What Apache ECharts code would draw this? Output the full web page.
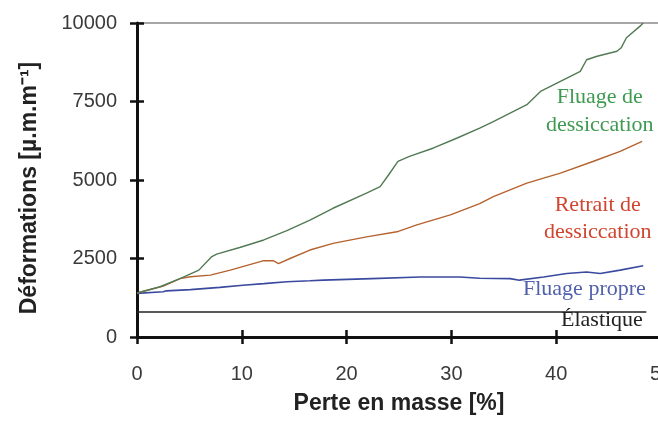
<!DOCTYPE html>
<html>
<head>
<meta charset="utf-8">
<script src="https://cdn.jsdelivr.net/npm/echarts@6/dist/echarts.min.js"></script>
<style>
  html, body { margin: 0; padding: 0; background: #fff; }
  #chart { width: 658px; height: 422px; }
</style>
</head>
<body>
<div id="chart"></div>
<script>
// Déformations vs perte en masse — [perte %, µm/m] pairs per curve
const fluageDessiccation = [
  [0, 1400], [2.2, 1600], [4.1, 1860], [5.9, 2130], [7.1, 2550], [7.6, 2640],
  [9.8, 2850], [12.1, 3090], [14.3, 3390], [16.5, 3720], [18.7, 4100],
  [21.9, 4580], [23.2, 4790], [24.0, 5160], [24.9, 5590], [26.0, 5750],
  [28.3, 6020], [30.5, 6330], [32.7, 6650], [34.0, 6860], [37.2, 7400],
  [38.5, 7820], [40.4, 8140], [42.3, 8460], [42.9, 8830], [43.9, 8940],
  [45.8, 9100], [46.2, 9210], [46.7, 9530], [48.0, 9900], [48.3, 10000]
];
const retraitDessiccation = [
  [0, 1400], [2.5, 1620], [4.1, 1860], [5.1, 1920], [7.0, 1970], [8.9, 2130],
  [12.1, 2430], [13.0, 2430], [13.5, 2340], [14.6, 2500], [16.5, 2770],
  [18.7, 2980], [21.9, 3190], [24.8, 3350], [26.7, 3570], [29.9, 3890],
  [32.7, 4250], [34.0, 4470], [37.2, 4900], [40.4, 5220], [43.5, 5590],
  [46.1, 5910], [48.2, 6230]
];
const fluagePropre = [
  [0, 1390], [2.5, 1440], [2.8, 1470], [5.1, 1510], [7.9, 1580], [10.1, 1650],
  [12.1, 1700], [14.3, 1760], [16.5, 1790], [17.8, 1810], [22.4, 1860],
  [27.0, 1910], [30.8, 1910], [32.7, 1870], [35.6, 1860], [36.5, 1810],
  [38.8, 1910], [41.0, 2020], [42.9, 2070], [44.2, 2020], [46.1, 2130],
  [48.3, 2270]
];
const elastique = [[0, 800], [48.6, 800]];

const xTicks = [0, 10, 20, 30, 40, 50];
const yTicks = [0, 2500, 5000, 7500, 10000];

const xTitle = 'Perte en masse [%]';
const yTitle = 'Déformations [µ.m.m⁻¹]';
const curveNames = ['Fluage de\ndessiccation', 'Retrait de\ndessiccation', 'Fluage propre', 'Élastique'];

const chart = echarts.init(document.getElementById('chart'), null, { renderer: 'canvas' });

const sans = 'Liberation Sans, Arial, sans-serif';
const serif = 'Liberation Serif, Times New Roman, serif';
const tickFont = { fontFamily: sans, fontSize: 20, color: '#3a3a3a' };
const titleFont = { fontFamily: sans, fontWeight: 'bold', fontSize: 23, color: '#222' };

// plot area in pixels
const gridLeft = 137, gridTop = 23, gridWidth = 524, gridHeight = 314;

const tickStyle = { color: '#111', width: 2.5 };
const hiddenLine = { show: true, onZero: false, lineStyle: { color: 'rgba(0,0,0,0)', width: 1 } };

const xBase = {
  type: 'value', min: xTicks[0], max: xTicks[xTicks.length - 1],
  interval: xTicks[1] - xTicks[0], splitLine: { show: false }
};
const yBase = {
  type: 'value', min: yTicks[0], max: yTicks[yTicks.length - 1],
  interval: yTicks[1] - yTicks[0]
};

const option = {
  backgroundColor: '#fff',
  animation: false,
  grid: {
    left: gridLeft, top: gridTop, width: gridWidth, height: gridHeight,
    containLabel: false, outerBoundsMode: 'none'
  },
  xAxis: [
    Object.assign({}, xBase, {
      position: 'bottom',
      name: xTitle, nameLocation: 'middle', nameGap: 55,
      nameTextStyle: titleFont,
      axisLine: { show: true, onZero: false, lineStyle: { color: '#111', width: 3 } },
      axisTick: { show: true, inside: false, length: 7, lineStyle: tickStyle },
      axisLabel: Object.assign({ margin: 27, formatter: v => String(v) }, tickFont)
    }),
    // upper half of the crossing ticks, laid on the bottom edge
    Object.assign({}, xBase, {
      position: 'top', offset: -gridHeight,
      axisLine: hiddenLine,
      axisTick: { show: true, inside: false, length: 7, lineStyle: tickStyle },
      axisLabel: { show: false }
    })
  ],
  yAxis: [
    Object.assign({}, yBase, {
      position: 'left',
      name: yTitle, nameLocation: 'middle', nameGap: 96, nameRotate: 90,
      nameTextStyle: Object.assign({ padding: [0, 16, 0, 0] }, titleFont),
      axisLine: { show: true, onZero: false, lineStyle: { color: '#111', width: 3 } },
      axisTick: { show: true, inside: false, length: 7, lineStyle: tickStyle },
      axisLabel: Object.assign({ margin: 20, formatter: v => String(v) }, tickFont),
      splitLine: { show: true, lineStyle: { color: ['rgba(0,0,0,0)', 'rgba(0,0,0,0)', 'rgba(0,0,0,0)', 'rgba(0,0,0,0)', '#8a8a8a'], width: 1.5 } }
    }),
    // right half of the crossing ticks, laid on the left edge
    Object.assign({}, yBase, {
      position: 'right', offset: -gridWidth,
      axisLine: hiddenLine,
      axisTick: { show: true, inside: false, length: 7, lineStyle: tickStyle },
      axisLabel: { show: false },
      splitLine: { show: false }
    })
  ],
  series: [
    { type: 'line', data: elastique, symbol: 'none', lineStyle: { color: '#222', width: 1.5 }, z: 3 },
    { type: 'line', data: fluagePropre, symbol: 'none', lineStyle: { color: '#3a4a9e', width: 1.6 }, z: 4 },
    { type: 'line', data: retraitDessiccation, symbol: 'none', lineStyle: { color: '#b5622f', width: 1.4 }, z: 5 },
    { type: 'line', data: fluageDessiccation, symbol: 'none', lineStyle: { color: '#527a54', width: 1.4 }, z: 6 },
    // binds the tick-only axes to the grid
    { type: 'line', data: [], xAxisIndex: 1, yAxisIndex: 1, symbol: 'none', silent: true }
  ],
  graphic: [
    { type: 'text', left: 546, top: 83, style: { text: curveNames[0], font: '22px ' + serif, fill: '#3d9a50', textAlign: 'center', lineHeight: 28, x: 55 } },
    { type: 'text', left: 544, top: 192, style: { text: curveNames[1], font: '22px ' + serif, fill: '#d0452f', textAlign: 'center', lineHeight: 27, x: 56 } },
    { type: 'text', left: 523, top: 278, style: { text: curveNames[2], font: '22px ' + serif, fill: '#5060aa' } },
    { type: 'text', left: 561, top: 309, style: { text: curveNames[3], font: '22px ' + serif, fill: '#222' } }
  ]
};

chart.setOption(option);
</script>
</body>
</html>
